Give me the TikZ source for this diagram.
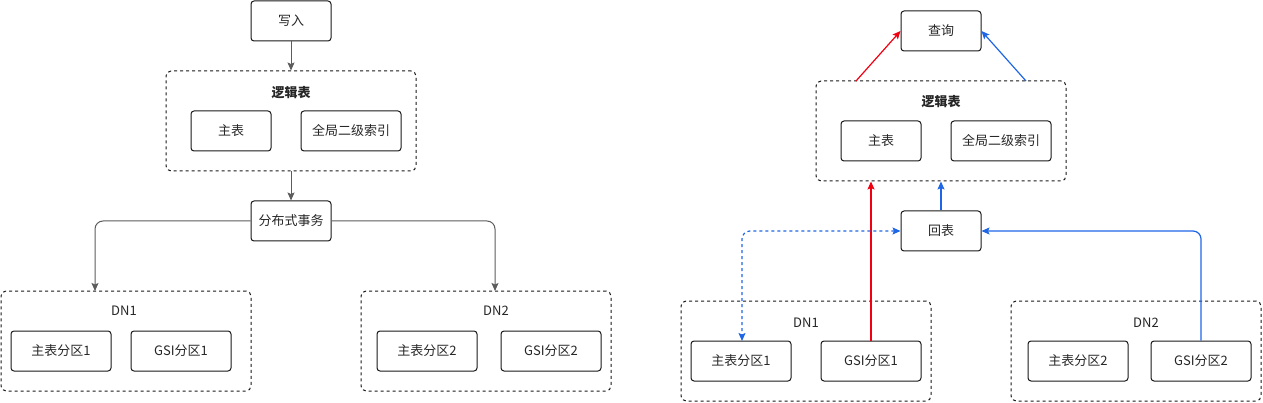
\documentclass[tikz,border=0pt]{standalone}
\usepackage{fontspec}
\setmainfont{Noto Sans CJK SC}
\usetikzlibrary{arrows.meta}
\definecolor{conn}{HTML}{5C5C5C}
\definecolor{qred}{HTML}{F00010}
\definecolor{qblue}{HTML}{1F66E6}
\begin{document}
\begin{tikzpicture}[x=1pt,y=-1pt,
  font=\fontsize{13}{15}\selectfont,
  boxnode/.style={draw=black!90,line width=1pt,rounded corners=3pt,minimum height=40pt,inner sep=0pt,text=black!85},
  smallbox/.style={boxnode,minimum width=80pt},
  widebox/.style={boxnode,minimum width=100pt},
  groupbox/.style={draw=black!90,line width=1pt,dash pattern=on 3pt off 3pt,rounded corners=5pt,minimum width=250pt,minimum height=100pt,inner sep=0pt},
  grouplabel/.style={inner sep=0pt,text=black!85},
  tip/.style={-{Stealth[length=8pt,width=7pt,inset=1.5pt]}},
  conline/.style={tip,draw=conn,line width=1pt},
  redline/.style={tip,draw=qred,line width=1.2pt},
  blueline/.style={tip,draw=qblue,line width=1.2pt},
]
\useasboundingbox (0,0) rectangle (1263,403);
% ---------- left diagram ----------
\node[smallbox] (wr) at (291,21) {写入};
\node[groupbox] (lt1) at (291,121) {};
\node[grouplabel,font=\fontsize{13}{15}\selectfont\bfseries] (lt1l) at (291,93) {逻辑表};
\node[smallbox] (mt1) at (231,131) {主表};
\node[widebox] (gi1) at (351,131) {全局二级索引};
\node[smallbox] (tx) at (291,221) {分布式事务};
\node[groupbox] (dna) at (126,341) {};
\node[grouplabel] (dnal) at (124,311) {DN1};
\node[widebox] (pa1) at (61,351) {主表分区1};
\node[widebox] (ga1) at (181,351) {GSI分区1};
\node[groupbox] (dnb) at (486,341) {};
\node[grouplabel] (dnbl) at (496,311) {DN2};
\node[widebox] (pb1) at (427,351) {主表分区2};
\node[widebox] (gb1) at (551,351) {GSI分区2};
\coordinate (dnat) at (95,291);
\coordinate (dnbt) at (495,291);
\draw[conline] (wr.south) -- (lt1.north);
\draw[conline] (lt1.south) -- (tx.north);
\draw[conline,rounded corners=8pt] (tx.west) -| (dnat);
\draw[conline,rounded corners=8pt] (tx.east) -| (dnbt);
% ---------- right diagram ----------
\node[smallbox] (q) at (941,31) {查询};
\node[groupbox] (lt2) at (941,131) {};
\node[grouplabel,font=\fontsize{13}{15}\selectfont\bfseries] (lt2l) at (941,102) {逻辑表};
\node[smallbox] (mt2) at (881,141) {主表};
\node[widebox] (gi2) at (1001,141) {全局二级索引};
\node[smallbox] (hb) at (941,231) {回表};
\node[groupbox] (dnc) at (806,351) {};
\node[grouplabel] (dncl) at (806,323) {DN1};
\node[widebox] (pc1) at (741,361) {主表分区1};
\node[widebox] (gc1) at (871,361) {GSI分区1};
\node[groupbox] (dnd) at (1136,351) {};
\node[grouplabel] (dndl) at (1146,323) {DN2};
\node[widebox] (pd1) at (1078,361) {主表分区2};
\node[widebox] (gd1) at (1201,361) {GSI分区2};
\coordinate (ltrs) at (856,81);
\coordinate (ltbs) at (1026,81);
\coordinate (pc1t) at (742,341);
\draw[redline] (ltrs) -- (q.west);
\draw[blueline] (ltbs) -- (q.east);
\draw[redline] (gc1.north) -- (gc1.north |- lt2.south);
\draw[blueline] (hb.north) -- (lt2.south);
\draw[blueline,rounded corners=8pt] (gd1.north) |- (hb.east);
\draw[draw=qblue,line width=1.2pt,dash pattern=on 3pt off 3pt,rounded corners=8pt,{Stealth[length=8pt,width=7pt,inset=1.5pt]}-{Stealth[length=8pt,width=7pt,inset=1.5pt]}] (hb.west) -| (pc1t);
\end{tikzpicture}
\end{document}
